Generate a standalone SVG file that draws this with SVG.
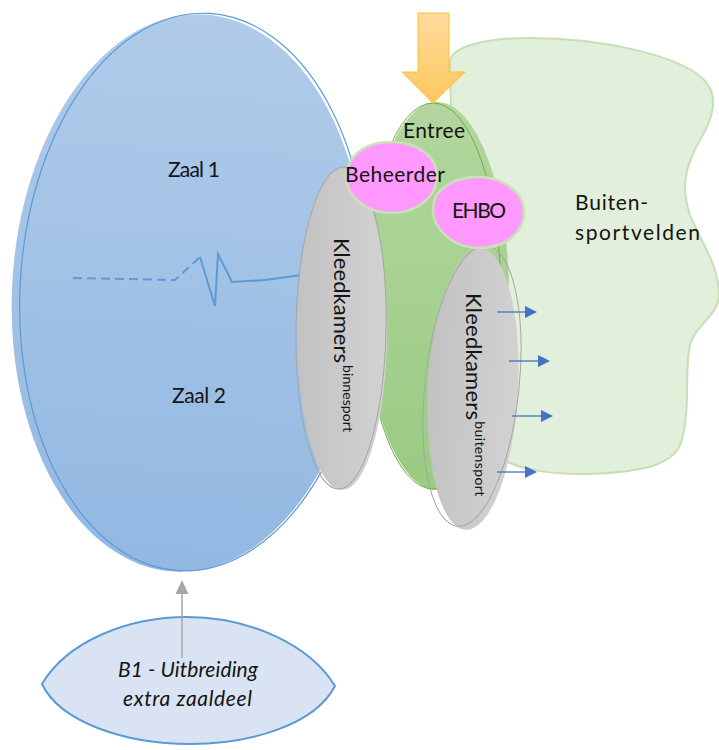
<svg xmlns="http://www.w3.org/2000/svg" width="719" height="750" viewBox="0 0 719 750">
<style>
.t{font-family:Lato,"Open Sans","Liberation Sans",sans-serif;fill:#141414;}
.blue{stroke:#5b9bd5;fill:none;stroke-width:1.2;}
.gray-o{stroke:#a6a6a6;fill:none;stroke-width:1;}
.pink{fill:#ff99ff;stroke:#c9e2b8;stroke-width:2.5;}
.barrow{stroke:#4472c4;stroke-width:1.3;fill:none;}
.bhead{fill:#4472c4;}
</style>
<defs>
<linearGradient id="gBlue" x1="0" y1="0" x2="0" y2="1">
<stop offset="0" stop-color="#b0cbe9"/><stop offset="1" stop-color="#92b8e2"/>
</linearGradient>
<linearGradient id="gGreen" x1="0" y1="0" x2="0" y2="1">
<stop offset="0" stop-color="#b3d69e"/><stop offset="1" stop-color="#9acb82"/>
</linearGradient>
<linearGradient id="gGray" x1="0" y1="0" x2="1" y2="0">
<stop offset="0" stop-color="#c2c2c2"/><stop offset="1" stop-color="#d2d2d2"/>
</linearGradient>
<linearGradient id="gYellow" x1="0" y1="0" x2="0" y2="1">
<stop offset="0" stop-color="#fedb9f"/><stop offset="1" stop-color="#fdc75c"/>
</linearGradient>
</defs>

<g id="buitensportvelden">
<path d="M450,62 C450,46 488,38 530,38 C600,38 680,55 704,80 C720,96 712,120 700,140 C686,165 680,185 690,215 C700,240 719,265 719,295 C719,315 695,325 690,345 C684,372 691,402 682,440 C675,466 640,472 590,474 C550,475 515,468 505,460 L455,300 Z" fill="#e2efda" stroke="#c5e0b4" stroke-width="2"/>
<text class="t" x="575" y="210" font-size="21" textLength="73">Buiten-</text>
<text class="t" x="575" y="240" font-size="21" textLength="125">sportvelden</text>
</g>

<g id="zaal">
<ellipse cx="189" cy="293" rx="177" ry="279" transform="rotate(3 189 293)" fill="url(#gBlue)"/>
<ellipse cx="194" cy="292" rx="174" ry="279" transform="rotate(3 194 292)" class="blue"/>
<text class="t" x="168" y="177" font-size="21" textLength="52">Zaal 1</text>
<text class="t" x="172" y="403" font-size="21" textLength="54">Zaal 2</text>
</g>

<g id="scheiding">
<path d="M73,278 L175,280 L200,257" fill="none" stroke="#5b9bd5" stroke-width="2" stroke-dasharray="9,5"/>
<path d="M200,257 L215,306 L218,254 L232,282 L265,280 L302,275" fill="none" stroke="#5b9bd5" stroke-width="2" stroke-linejoin="miter"/>
</g>

<g id="entree">
<ellipse cx="437" cy="296" rx="72" ry="194" fill="url(#gGreen)"/>
<ellipse cx="433" cy="296" rx="68" ry="193" fill="none" stroke="#70ad47" stroke-width="1"/>
<text class="t" x="403" y="138" font-size="21" textLength="62">Entree</text>
</g>

<g id="kleedkamers-binnensport">
<ellipse cx="342" cy="329" rx="45" ry="161" fill="url(#gGray)"/>
<ellipse cx="341" cy="328" rx="45" ry="161" transform="rotate(1 341 328)" class="gray-o"/>
<text class="t" transform="translate(334,238) rotate(90)" font-size="22"><tspan textLength="125">Kleedkamers</tspan><tspan font-size="14" dx="2" dy="-9" textLength="67">binnesport</tspan></text>
</g>

<g id="kleedkamers-buitensport">
<ellipse cx="473" cy="389" rx="45" ry="141" transform="rotate(3 473 389)" fill="url(#gGray)"/>
<ellipse cx="472" cy="386" rx="47" ry="141" transform="rotate(6 472 386)" class="gray-o"/>
<text class="t" transform="translate(466,293) rotate(90)" font-size="22"><tspan textLength="127">Kleedkamers</tspan><tspan font-size="14" dx="1" dy="-9" textLength="75">buitensport</tspan></text>
</g>

<g id="beheerder">
<path class="pink" d="M347,170 C352,150 372,141 394,142 C420,143 438,158 437,178 C436,198 416,213 392,213 C366,213 342,195 347,170 Z"/>
<text class="t" x="345" y="182" font-size="21" textLength="100">Beheerder</text>
</g>

<g id="ehbo">
<path class="pink" d="M433,206 C435,188 455,177 478,177 C503,177 524,192 524,212 C524,232 506,248 480,248 C452,248 431,228 433,206 Z"/>
<text class="t" x="452" y="218" font-size="21" textLength="54">EHBO</text>
</g>

<g id="uitbreiding">
<path d="M42,684 C68,640 130,617 187,617 C250,617 310,645 335,686 C315,725 250,744 190,744 C125,744 60,722 42,684 Z" fill="#dae3f3" stroke="#5b9bd5" stroke-width="2"/>
<text class="t" x="118" y="677" font-size="21" font-style="italic" textLength="140">B1 - Uitbreiding</text>
<text class="t" x="123" y="706" font-size="21" font-style="italic" textLength="129">extra zaaldeel</text>
</g>

<g id="connectors">
<polygon points="418,13 449,13 449,72 465,72 433,103 402,72 418,72" fill="url(#gYellow)" stroke="#fcc12e" stroke-width="1"/>
<line x1="182" y1="658" x2="182" y2="593" stroke="#a6a6a6" stroke-width="1.5"/>
<polygon points="182,580 175.5,594 188.5,594" fill="#a6a6a6"/>
<line class="barrow" x1="497" y1="312" x2="526" y2="312"/>
<polygon class="bhead" points="537,312 525,306 525,318"/>
<line class="barrow" x1="509" y1="361" x2="539" y2="361"/>
<polygon class="bhead" points="550,361 538,355 538,367"/>
<line class="barrow" x1="512" y1="416" x2="542" y2="416"/>
<polygon class="bhead" points="553,416 541,410 541,422"/>
<line class="barrow" x1="497" y1="472" x2="526" y2="472"/>
<polygon class="bhead" points="537,472 525,466 525,478"/>
</g>
</svg>
